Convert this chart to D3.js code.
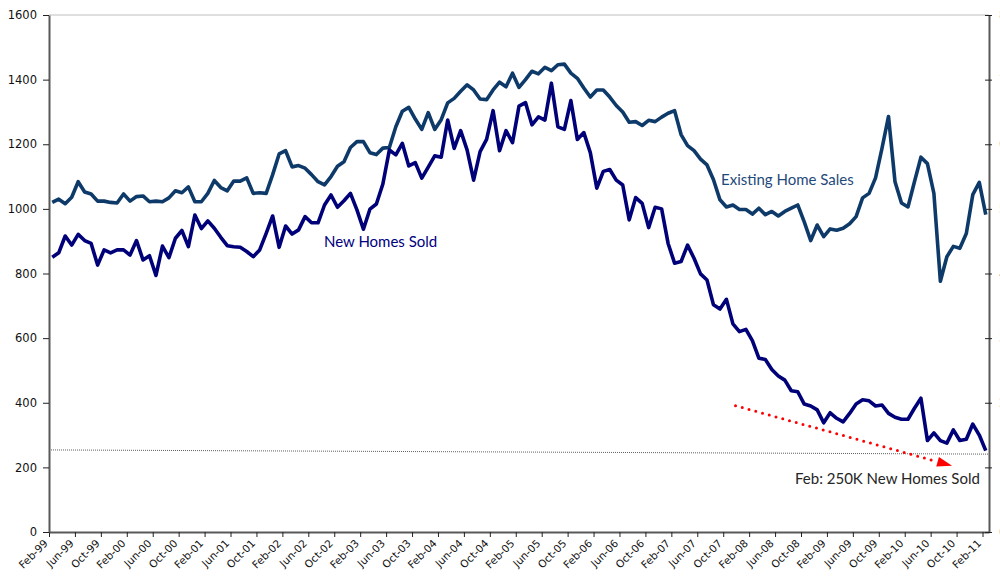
<!DOCTYPE html>
<html>
<head>
<meta charset="utf-8">
<script src="https://cdn.jsdelivr.net/npm/d3@7"></script>
<style>
  body { margin: 0; background: #fff; }
  svg { display: block; }
</style>
</head>
<body>
<svg id="chart" width="1000" height="579"></svg>
<script>
// new home sales, thousands (SAAR), Feb-99 .. Feb-11
var newHomes = [
  850, 864, 916, 888, 921, 902, 893, 826, 873, 864, 873, 873,
  857, 902, 842, 855, 794, 885, 849, 909, 933, 883, 981, 939,
  963, 940, 912, 886, 883, 881, 868, 852, 873, 924, 978, 881,
  947, 922, 935, 976, 957, 957, 1012, 1043, 1005, 1025, 1048, 997,
  937, 999, 1015, 1077, 1182, 1167, 1203, 1133, 1143, 1095, 1129, 1164,
  1160, 1275, 1187, 1242, 1182, 1089, 1177, 1215, 1304, 1180, 1242, 1205,
  1318, 1329, 1260, 1285, 1275, 1389, 1254, 1246, 1335, 1215, 1236, 1174,
  1064, 1116, 1122, 1089, 1074, 966, 1035, 1017, 942, 1005, 1000, 893,
  832, 837, 888, 847, 799, 780, 703, 690, 720, 644, 620, 627,
  592, 538, 534, 503, 483, 470, 437, 434, 396, 390, 378, 338,
  369, 352, 341, 367, 396, 409, 406, 390, 393, 367, 355, 349,
  349, 383, 414, 283, 307, 283, 275, 316, 283, 287, 334, 300,
  252
];

// existing home sales, millions (SAAR), right axis
var existingSales = [
  5.10, 5.15, 5.08, 5.18, 5.42, 5.26, 5.23, 5.12, 5.12, 5.10, 5.09, 5.23,
  5.12, 5.19, 5.20, 5.11, 5.12, 5.11, 5.17, 5.28, 5.25, 5.34, 5.11, 5.11,
  5.24, 5.44, 5.33, 5.28, 5.43, 5.43, 5.48, 5.24, 5.25, 5.24, 5.53, 5.85,
  5.90, 5.65, 5.67, 5.63, 5.53, 5.42, 5.37, 5.50, 5.66, 5.73, 5.95, 6.04,
  6.04, 5.87, 5.84, 5.94, 5.95, 6.27, 6.51, 6.57, 6.39, 6.23, 6.49, 6.23,
  6.38, 6.64, 6.71, 6.82, 6.92, 6.84, 6.70, 6.69, 6.84, 6.96, 6.89, 7.10,
  6.88, 7.00, 7.13, 7.09, 7.19, 7.14, 7.23, 7.24, 7.10, 7.02, 6.87, 6.73,
  6.84, 6.84, 6.73, 6.60, 6.50, 6.34, 6.35, 6.29, 6.37, 6.35, 6.42, 6.48,
  6.52, 6.15, 5.98, 5.90, 5.77, 5.68, 5.45, 5.14, 5.03, 5.06, 4.99, 4.99,
  4.92, 5.01, 4.91, 4.96, 4.89, 4.96, 5.01, 5.06, 4.80, 4.51, 4.75, 4.57,
  4.69, 4.67, 4.70, 4.77, 4.88, 5.17, 5.24, 5.48, 5.94, 6.43, 5.42, 5.09,
  5.03, 5.42, 5.80, 5.70, 5.24, 3.88, 4.26, 4.42, 4.39, 4.62, 5.22, 5.41,
  4.91
];

var yTicksLeft = [0, 200, 400, 600, 800, 1000, 1200, 1400, 1600];
var yTicksRight = [0, 1, 2, 3, 4, 5, 6, 7, 8];

// thin dotted reference line (value at left edge, value at right edge)
var refLine = [254, 241];
// red dotted trend arrow: [month index, value]
var trendArrow = [[105.4, 391], [138.8, 205]];

var months = d3.timeMonth.range(new Date(1999, 1, 1), new Date(2011, 2, 1));
var fmt = d3.timeFormat("%b-%y");

var margin = {top: 15, right: 11, bottom: 47, left: 49};
var W = 1000, H = 579;
var svg = d3.select("#chart");
var tickFont = "'DejaVu Sans', Verdana, sans-serif";

var x = d3.scaleBand().domain(months.map(fmt)).range([margin.left, W - margin.right]);
var xEdge = d3.scaleLinear().domain([0, months.length]).range([margin.left, W - margin.right]);
var xIdx = function(i) { return xEdge(i + 0.5); };
var y = d3.scaleLinear().domain([0, 1600]).range([H - margin.bottom, margin.top]);
var yR = d3.scaleLinear().domain([0, 8]).range([H - margin.bottom, margin.top]);

// top border
svg.append("line")
    .attr("x1", margin.left).attr("x2", W - margin.right)
    .attr("y1", margin.top).attr("y2", margin.top)
    .attr("stroke", "#d4d4d4").attr("stroke-width", 1.5);

// reference dotted line
svg.append("line")
    .attr("x1", xEdge(0)).attr("x2", xEdge(months.length))
    .attr("y1", y(refLine[0])).attr("y2", y(refLine[1]))
    .attr("stroke", "#333").attr("stroke-width", 0.8)
    .attr("stroke-dasharray", "1,1");

// x axis
var xAxis = svg.append("g")
    .attr("transform", "translate(0," + (H - margin.bottom) + ")")
    .call(d3.axisBottom(xEdge)
        .tickValues(d3.range(0, months.length, 4))
        .tickFormat(function(i) { return fmt(months[i]); })
        .tickSizeInner(5).tickSizeOuter(0));
xAxis.attr("font-family", tickFont).attr("font-size", 10.5);
xAxis.select(".domain").attr("stroke", "#595959").attr("stroke-width", 2);
xAxis.selectAll(".tick line").attr("stroke", "#222");
xAxis.selectAll(".tick text")
    .attr("fill", "#111")
    .attr("text-anchor", "end")
    .attr("y", 0).attr("dy", 0)
    .attr("transform", "translate(-1,12) rotate(-45)");

// left axis
var yAxis = svg.append("g")
    .attr("transform", "translate(" + margin.left + ",0)")
    .call(d3.axisLeft(y).tickValues(yTicksLeft).tickFormat(d3.format("d"))
        .tickSizeInner(6).tickSizeOuter(0).tickPadding(6));
yAxis.attr("font-family", tickFont).attr("font-size", 11.5);
yAxis.select(".domain").attr("stroke", "#595959").attr("stroke-width", 2);
yAxis.selectAll(".tick line").attr("stroke", "#222");
yAxis.selectAll(".tick text").attr("fill", "#111");

// right axis (labels run off the edge, as in the original)
var yAxisR = svg.append("g")
    .attr("transform", "translate(" + (W - margin.right) + ",0)")
    .call(d3.axisRight(yR).tickValues(yTicksRight).tickFormat(d3.format("d"))
        .tickSizeInner(3).tickSizeOuter(0).tickPadding(7));
yAxisR.attr("font-family", tickFont).attr("font-size", 11.5);
yAxisR.select(".domain").attr("stroke", "#595959").attr("stroke-width", 2);
yAxisR.selectAll(".tick line").attr("stroke", "#222").attr("x1", -4);
yAxisR.selectAll(".tick text").attr("fill", "#888");

// lines
var lineNew = d3.line()
    .x(function(d, i) { return x(fmt(months[i])) + x.bandwidth() / 2; })
    .y(function(d) { return y(d); });
var lineExisting = d3.line()
    .x(function(d, i) { return x(fmt(months[i])) + x.bandwidth() / 2; })
    .y(function(d) { return yR(d); });

svg.append("path")
    .datum(existingSales)
    .attr("fill", "none")
    .attr("stroke", "#0E3A6A")
    .attr("stroke-width", 3.6)
    .attr("stroke-linejoin", "round")
    .attr("d", lineExisting);

svg.append("path")
    .datum(newHomes)
    .attr("fill", "none")
    .attr("stroke", "#000078")
    .attr("stroke-width", 3.6)
    .attr("stroke-linejoin", "round")
    .attr("d", lineNew);

// red dotted arrow
var ax1 = xIdx(trendArrow[0][0]), ay1 = y(trendArrow[0][1]);
var ax2 = xIdx(trendArrow[1][0]), ay2 = y(trendArrow[1][1]);
var ang = Math.atan2(ay2 - ay1, ax2 - ax1);
var headLen = 15;
svg.append("line")
    .attr("x1", ax1).attr("y1", ay1)
    .attr("x2", ax2 - headLen * Math.cos(ang)).attr("y2", ay2 - headLen * Math.sin(ang))
    .attr("stroke", "#ff0000").attr("stroke-width", 3)
    .attr("stroke-linecap", "round")
    .attr("stroke-dasharray", "0,7");
svg.append("path")
    .attr("fill", "#ff0000")
    .attr("transform", "translate(" + ax2 + "," + ay2 + ") rotate(" + (ang * 180 / Math.PI) + ")")
    .attr("d", "M0,0 L" + (-headLen) + ",-5 L" + (-headLen) + ",5 Z");

// labels
svg.append("text")
    .attr("x", 324).attr("y", 247)
    .style("font-family", "Lato, 'Open Sans', sans-serif")
    .style("font-size", "15px")
    .attr("fill", "#000080")
    .text("New Homes Sold");

svg.append("text")
    .attr("x", 721).attr("y", 185)
    .style("font-family", "Lato, 'Open Sans', sans-serif")
    .style("font-size", "15px")
    .attr("fill", "#1F4A7A")
    .text("Existing Home Sales");

svg.append("text")
    .attr("x", 795).attr("y", 484)
    .style("font-family", "Lato, 'Open Sans', sans-serif")
    .style("font-size", "15px")
    .attr("fill", "#262626")
    .text("Feb: 250K New Homes Sold");
</script>
</body>
</html>
